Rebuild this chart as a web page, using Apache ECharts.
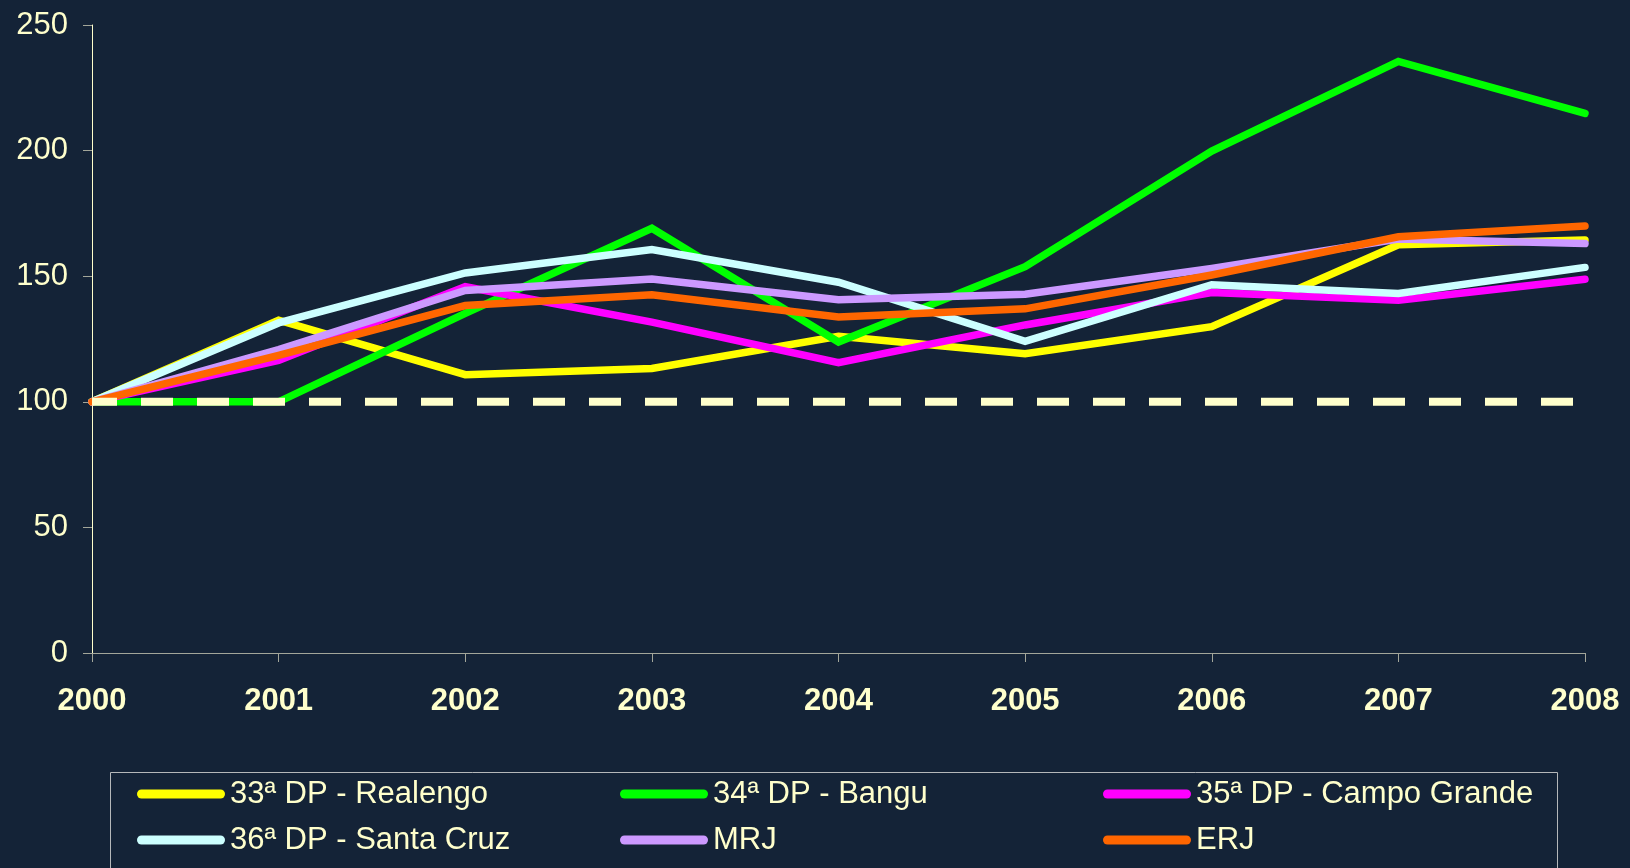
<!DOCTYPE html>
<html>
<head>
<meta charset="utf-8">
<title>Índice 2000 = 100</title>
<script src="https://cdn.jsdelivr.net/npm/echarts@6/dist/echarts.min.js"></script>
<style>
  html, body { margin: 0; padding: 0; background: #142337; }
  #chart { width: 1630px; height: 868px; }
</style>
</head>
<body>
<div id="chart"></div>
<script>
// anos (eixo x)
const years = ['2000', '2001', '2002', '2003', '2004', '2005', '2006', '2007', '2008'];

// séries (base 2000 = 100)
const realengo    = [100, 132.5, 110.8, 113.3, 126.1, 119.1, 129.9, 162.5, 164.4];
const bangu       = [100, 100.0, 135.2, 169.1, 123.8, 153.8, 199.8, 235.5, 214.8];
const campoGrande = [100, 116.5, 145.8, 131.7, 115.6, 130.6, 143.5, 140.4, 148.8];
const santaCruz   = [100, 131.4, 151.3, 160.6, 147.6, 124.1, 146.6, 143.1, 153.5];
const mrj         = [100, 120.8, 144.3, 148.9, 140.6, 142.8, 153.1, 164.8, 163.0];
const erj         = [100, 118.5, 138.3, 142.6, 133.8, 137.0, 150.5, 165.7, 170.0];
const baseline    = [100, 100, 100, 100, 100, 100, 100, 100, 100];

const yTicks = [0, 50, 100, 150, 200, 250];

const names = [
  '33ª DP - Realengo', '34ª DP - Bangu', '35ª DP - Campo Grande',
  '36ª DP - Santa Cruz', 'MRJ', 'ERJ'
];
const values = [realengo, bangu, campoGrande, santaCruz, mrj, erj];
const colors = ['#FFFF00', '#00FF00', '#FF00FF', '#CCFFFF', '#CC99FF', '#FF6600'];

const cream = '#FFFFCC';
const font = '"Liberation Sans", Arial, sans-serif';

// ícone da legenda: barra com pontas arredondadas (88 x 9)
const capsule = 'path://M4.5,0 L83.5,0 A4.5,4.5 0 0 1 83.5,9 L4.5,9 A4.5,4.5 0 0 1 4.5,0 Z';

function legendCol(left, data) {
  return {
    orient: 'vertical',
    left: left,
    top: 776,
    padding: 0,
    itemGap: 10,
    itemWidth: 88,
    itemHeight: 9,
    icon: capsule,
    selectedMode: false,
    data: data,
    textStyle: { color: cream, fontSize: 31, fontFamily: font, lineHeight: 36, padding: [0, 0, 0, 0] }
  };
}

const series = names.map((n, i) => ({
  name: n,
  type: 'line',
  data: values[i],
  showSymbol: false,
  symbol: 'none',
  itemStyle: { color: colors[i] },
  lineStyle: { color: colors[i], width: 7.5, cap: 'round', join: 'miter' },
  z: 2 + i
}));

series.push({
  name: 'Base 100',
  type: 'line',
  data: baseline,
  showSymbol: false,
  symbol: 'none',
  itemStyle: { color: cream },
  lineStyle: { color: cream, width: 8, type: [32, 24], dashOffset: 7, cap: 'butt' },
  z: 10
});

const chart = echarts.init(document.getElementById('chart'));
chart.setOption({
  backgroundColor: '#142337',
  animation: false,
  textStyle: { fontFamily: font },
  grid: { left: 92, right: 45, top: 25, bottom: 215 },
  xAxis: {
    type: 'category',
    data: years,
    boundaryGap: false,
    axisLine: { lineStyle: { color: '#A3A69A', width: 1 } },
    axisTick: { show: true, length: 9, lineStyle: { color: '#A3A69A' } },
    axisLabel: { color: cream, fontSize: 31, fontWeight: 'bold', fontFamily: font, margin: 33 },
    splitLine: { show: false }
  },
  yAxis: {
    type: 'value',
    min: yTicks[0],
    max: yTicks[yTicks.length - 1],
    interval: 50,
    axisLine: { show: true, lineStyle: { color: cream, width: 1 } },
    axisTick: { show: true, length: 9, lineStyle: { color: '#A3A69A' } },
    axisLabel: { color: cream, fontSize: 31, fontFamily: font, margin: 24 },
    splitLine: { show: false }
  },
  legend: [
    legendCol(137, [names[0], names[3]]),
    legendCol(620, [names[1], names[4]]),
    legendCol(1103, [names[2], names[5]])
  ],
  graphic: [{
    type: 'rect',
    shape: { x: 110.5, y: 772.5, width: 1447, height: 120 },
    style: { fill: 'none', stroke: '#B5B8BA', lineWidth: 1 },
    silent: true
  }],
  series: series
});
</script>
</body>
</html>
